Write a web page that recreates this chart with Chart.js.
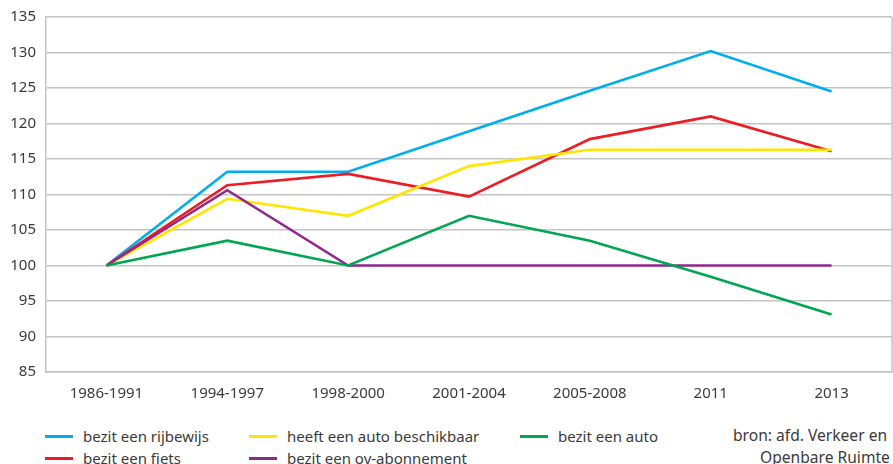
<!DOCTYPE html>
<html>
<head>
<meta charset="utf-8">
<script src="https://cdn.jsdelivr.net/npm/chart.js@4"></script>
<style>
  body { margin: 0; background: #fff; font-family: "Noto Sans", sans-serif; color: #3a3a3a; }
  #wrap { position: relative; width: 893px; height: 464px; overflow: hidden; }
  #chart { position: absolute; left: 0; top: 0; }
  .leg { position: absolute; font-size: 15px; line-height: 18px; white-space: nowrap; }
  .leg span.swatch { position: absolute; left: 0; top: 8px; width: 28px; height: 3px; }
  .leg span.txt { position: absolute; left: 38px; top: 0; }
  .bron { position: absolute; font-size: 15.6px; line-height: 18px; white-space: nowrap; }
</style>
</head>
<body>
<div id="wrap">
  <canvas id="chart" width="893" height="410"></canvas>
  <div class="bron" style="left:733px; top:426px">bron: afd. Verkeer en</div>
  <div class="bron" style="left:760px; top:448px">Openbare Ruimte</div>
</div>
<script>
// periods
const periods = ['1986-1991', '1994-1997', '1998-2000', '2001-2004', '2005-2008', '2011', '2013'];

// index, 1986-1991 = 100
const rijbewijs = [100, 113.2, 113.2, 118.9, 124.6, 130.2, 124.5];
const fiets = [100, 111.3, 112.9, 109.7, 117.8, 121.0, 116.1];
const autoBeschikbaar = [100, 109.4, 107.0, 114.0, 116.3, 116.3, 116.3];
const ovAbonnement = [100, 110.6, 100, 100, 100, 100, 100];
const auto = [100, 103.5, 100, 107.0, 103.5, 98.4, 93.1];

const series = [
    { label: 'bezit een rijbewijs', data: rijbewijs, color: '#00aeef', x: 45, y: 427 },
    { label: 'bezit een fiets', data: fiets, color: '#ed1c24', x: 45, y: 449 },
    { label: 'heeft een auto beschikbaar', data: autoBeschikbaar, color: '#ffe600', x: 249, y: 427 },
    { label: 'bezit een ov-abonnement', data: ovAbonnement, color: '#92278f', x: 249, y: 449 },
    { label: 'bezit een auto', data: auto, color: '#00a651', x: 520, y: 427 }
];

// legend in two rows, column order
const wrap = document.getElementById('wrap');
series.forEach(s => {
    const item = document.createElement('div');
    item.className = 'leg';
    item.style.left = s.x + 'px';
    item.style.top = s.y + 'px';
    item.innerHTML = '<span class="swatch" style="background:' + s.color + '"></span><span class="txt">' + s.label + '</span>';
    wrap.appendChild(item);
});

// right edge of the plot frame
const frameRight = {
    id: 'frameRight',
    afterDraw(chart) {
        const a = chart.chartArea;
        const ctx = chart.ctx;
        ctx.save();
        ctx.strokeStyle = '#c4c4c4';
        ctx.lineWidth = 1.5;
        ctx.beginPath();
        ctx.moveTo(a.right, a.top);
        ctx.lineTo(a.right, a.bottom);
        ctx.stroke();
        ctx.restore();
    }
};

// draw order: purple first, then green, yellow, red, blue on top
const drawOrder = [4, 3, 2, 1, 0];

new Chart(document.getElementById('chart'), {
    type: 'line',
    data: {
        labels: periods,
        datasets: series.map((s, i) => ({
            label: s.label,
            data: s.data,
            borderColor: s.color,
            backgroundColor: s.color,
            borderWidth: 2.6,
            pointRadius: 0,
            tension: 0,
            order: drawOrder[i]
        }))
    },
    options: {
        responsive: false,
        animation: false,
        layout: { padding: { top: 17, right: 1, left: 0, bottom: 0 } },
        plugins: {
            legend: { display: false },
            tooltip: { enabled: false }
        },
        scales: {
            x: {
                offset: true,
                grid: { display: false },
                border: { color: '#c4c4c4', width: 1.5 },
                ticks: {
                    color: '#3a3a3a',
                    font: { family: 'Noto Sans', size: 15 },
                    padding: 5,
                    maxRotation: 0
                },
                afterFit(scale) { scale.height = 38; }
            },
            y: {
                min: 85,
                max: 135,
                ticks: {
                    stepSize: 5,
                    color: '#3a3a3a',
                    font: { family: 'Noto Sans', size: 15 },
                    padding: 10
                },
                grid: { color: '#c4c4c4', lineWidth: 1.5, drawTicks: false },
                border: { color: '#c4c4c4', width: 1.5 },
                afterFit(scale) {
                    scale.width = 46;
                    scale.paddingTop = 0;
                    scale.paddingBottom = 0;
                }
            }
        }
    },
    plugins: [frameRight]
});
</script>
</body>
</html>
